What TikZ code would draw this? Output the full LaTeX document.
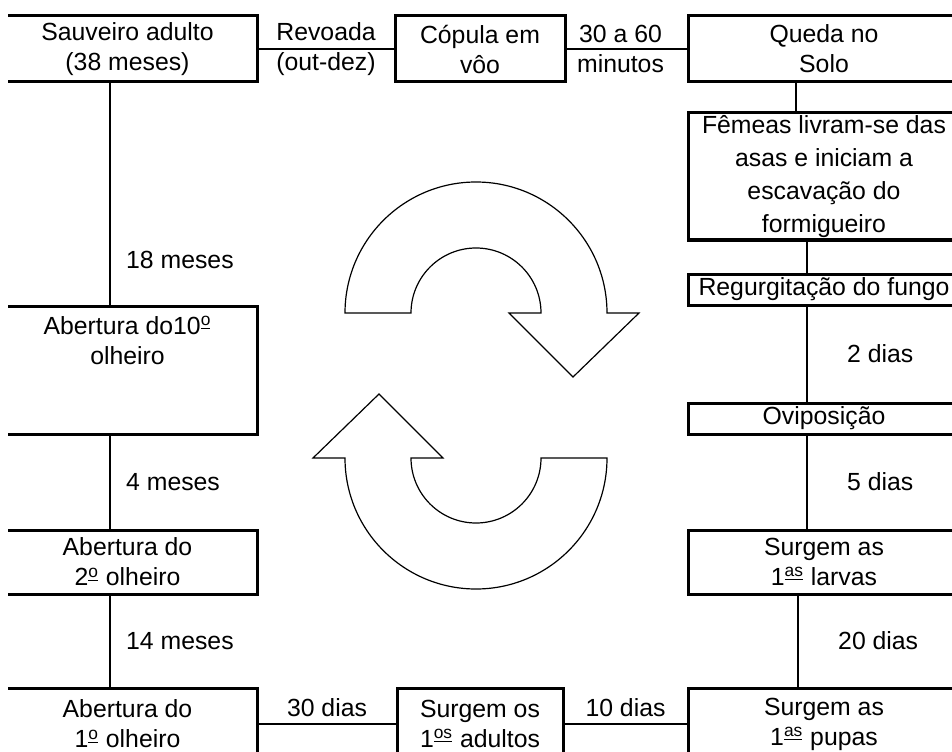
\documentclass[tikz,border=0pt]{standalone}
\usepackage{fontspec}
\setmainfont{Liberation Sans}
\usetikzlibrary{positioning}

\newcommand{\ordsup}[1]{\textsuperscript{\underline{#1}}}

\tikzset{
  stage/.style={draw, line width=1.5pt, align=center, inner sep=0pt},
  leftbox/.style={stage, minimum width=129.5pt},
  rightbox/.style={stage, minimum width=136pt},
  link/.style={line width=1.2pt},
  dur/.style={align=center, inner sep=0pt},
  cyclearrow/.style={line width=0.6pt, line join=miter},
}

\begin{document}
\begin{tikzpicture}[x=0.5pt, y=0.5pt, font=\fontsize{12.4}{15}\selectfont]
    \useasboundingbox (0,0) rectangle (952,751);
    \clip (8,0) rectangle (952,751);

    \coordinate (lx) at (110,0);
    \coordinate (rx1) at (796,0);
    \coordinate (rx2) at (807,0);
    \coordinate (rx3) at (798,0);

    % left column
    \node[leftbox, minimum height=33pt] (sauveiro) at (127.5,702) {Sauveiro adulto\\(38 meses)};
    \node[leftbox, minimum height=64pt] (abert10) at (127.5,381)
      {Abertura do10\ordsup{o}\\olheiro\\ \phantom{x}\\ \phantom{x}};
    \node[leftbox, minimum height=32pt] (abert2) at (127.5,189) {Abertura do\\2\ordsup{o} olheiro};
    \node[leftbox, minimum height=36pt] (abert1) at (127.5,27) {Abertura do\\1\ordsup{o} olheiro};

    % middle
    \node[stage, minimum width=85pt, minimum height=33pt] (copula) at (480,702) {Cópula em\\vôo};
    \node[stage, minimum width=83pt, minimum height=36pt] (adultos) at (480,27)
      {Surgem os\\1\ordsup{os} adultos};

    % right column
    \node[rightbox, minimum height=33pt] (queda) at (824,702) {Queda no\\Solo};
    \node[rightbox, minimum height=63.5pt, font=\fontsize{12.4}{16.5}\selectfont] (femeas) at (824,574.5)
      {Fêmeas livram-se das\\asas e iniciam a\\escavação do\\formigueiro};
    \node[rightbox, minimum height=15.5pt] (regurg) at (824,461.5) {Regurgitação do fungo};
    \node[rightbox, minimum height=15.5pt] (ovip) at (824,332.5) {Oviposição};
    \node[rightbox, minimum height=32pt] (larvas) at (824,189)
      {Surgem as\\1\ordsup{as} larvas};
    \node[rightbox, minimum height=36pt] (pupas) at (824,27)
      {Surgem as\\1\ordsup{as} pupas};

    % connectors
    \draw[link] (sauveiro) -- node[dur] {Revoada\\(out-dez)} (copula);
    \draw[link] (copula) -- node[dur, xshift=-3pt] {30 a 60\\minutos} (queda);
    \draw[link] (queda.south -| rx1) -- (femeas.north -| rx1);
    \draw[link] (femeas.south -| rx2) -- (regurg.north -| rx2);
    \draw[link] (regurg.south -| rx2) -- node[dur, right=19.5pt] {2 dias} (ovip.north -| rx2);
    \draw[link] (ovip.south -| rx2) -- node[dur, right=19.5pt] {5 dias} (larvas.north -| rx2);
    \draw[link] (larvas.south -| rx3) -- node[dur, right=19.5pt] {20 dias} (pupas.north -| rx3);
    \draw[link] (pupas) -- node[dur, above=3pt] {10 dias} (adultos);
    \draw[link] (adultos) -- node[dur, above=3pt] {30 dias} (abert1);
    \draw[link] (abert1.north -| lx) -- node[dur, right=7.5pt] {14 meses} (abert2.south -| lx);
    \draw[link] (abert2.north -| lx) -- node[dur, right=7.5pt] {4 meses} (abert10.south -| lx);
    \draw[link] (abert10.north -| lx) -- node[dur, pos=0.2, right=7.5pt] {18 meses} (sauveiro.south -| lx);

    % cycle arrows
    \foreach \r in {0,180}{
      \draw[cyclearrow, rotate around={\r:(476,365.5)}]
        (345,438) arc[start angle=180, end angle=0, radius=131]
        -- (639,438) -- (573,374) -- (509,438) -- (541,438)
        arc[start angle=0, end angle=180, radius=65] -- cycle;
    }
\end{tikzpicture}
\end{document}
